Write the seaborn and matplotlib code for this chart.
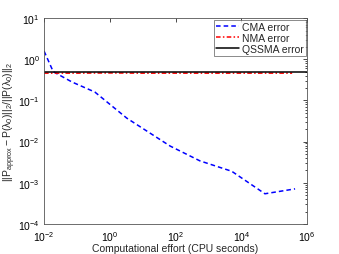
import numpy as np
import pandas as pd
import matplotlib
matplotlib.use("Agg")
import matplotlib.pyplot as plt
import seaborn as sns

sns.set_style("white")
plt.rcParams['font.family'] = ['Liberation Sans', 'DejaVu Sans']
plt.rcParams['mathtext.fontset'] = 'custom'
plt.rcParams['mathtext.rm'] = 'Liberation Sans'
plt.rcParams['mathtext.it'] = 'Liberation Sans'
plt.rcParams['mathtext.bf'] = 'Liberation Sans:bold'

# data (CPU seconds vs relative error)
cma_effort = [1e-2, 1.9e-2, 7.1e-2, 0.35, 3.3, 68, 550, 5100, 5.2e4, 4.3e5]
cma_error = [1.58, 0.50, 0.28, 0.16, 0.037, 0.0078, 0.0034, 0.0019, 5.4e-4, 7.1e-4]

nma_effort = [1e-2, 0.1, 1, 10, 100, 1e3, 1e4, 1e5, 3.5e5]
nma_error = [0.46, 0.46, 0.465, 0.46, 0.46, 0.46, 0.46, 0.46, 0.46]

qssma_effort = [1e-2, 1e6]
qssma_error = [0.49, 0.49]

df = pd.concat([
    pd.DataFrame({'effort': cma_effort, 'error': cma_error, 'method': 'CMA error'}),
    pd.DataFrame({'effort': nma_effort, 'error': nma_error, 'method': 'NMA error'}),
    pd.DataFrame({'effort': qssma_effort, 'error': qssma_error, 'method': 'QSSMA error'}),
])

fig = plt.figure(figsize=(3.39, 2.55), dpi=100)
ax = fig.add_axes([0.130, 0.118, 0.776, 0.807])

palette = {'CMA error': '#0000ff', 'NMA error': '#ff0000', 'QSSMA error': '#000000'}
styles = {'CMA error': (0, (3, 2)), 'NMA error': (0, (3, 1.5, 1, 1.5)), 'QSSMA error': '-'}
for name, grp in df.groupby('method', sort=False):
    sns.lineplot(data=grp, x='effort', y='error', ax=ax, color=palette[name],
                 linestyle=styles[name], linewidth=1.1, label=name, estimator=None)

ax.set_xscale('log')
ax.set_yscale('log')
ax.set_xlim(1e-2, 1e6)
ax.set_ylim(1e-4, 1e1)
ax.set_xticks([1e-2, 1e0, 1e2, 1e4, 1e6])
ax.xaxis.set_minor_locator(matplotlib.ticker.NullLocator())
ax.tick_params(which='both', direction='in', top=True, right=True, labelsize=7.5,
               colors='black')
ax.tick_params(axis='x', pad=4)
ax.tick_params(axis='y', pad=3)
ax.tick_params(which='major', length=3, width=0.5)
ax.tick_params(which='minor', length=1.5, width=0.5)
for s in ax.spines.values():
    s.set_linewidth(0.6)
    s.set_color('#555555')

ax.set_xlabel('Computational effort (CPU seconds)', fontsize=7.5, labelpad=0)
ax.set_ylabel(r'$||P_{approx}-P(\lambda_0)||_2/||P(\lambda_0)||_2$', fontsize=7.5, labelpad=0)

leg = ax.legend(loc='upper right', fontsize=7.5, frameon=True, fancybox=False,
                borderpad=0.2, labelspacing=0.1, handlelength=2.2, handletextpad=0.3,
                borderaxespad=0.15)
leg.get_frame().set_edgecolor('#555555')
leg.get_frame().set_linewidth(0.6)

fig.savefig('out.png', dpi=100)
